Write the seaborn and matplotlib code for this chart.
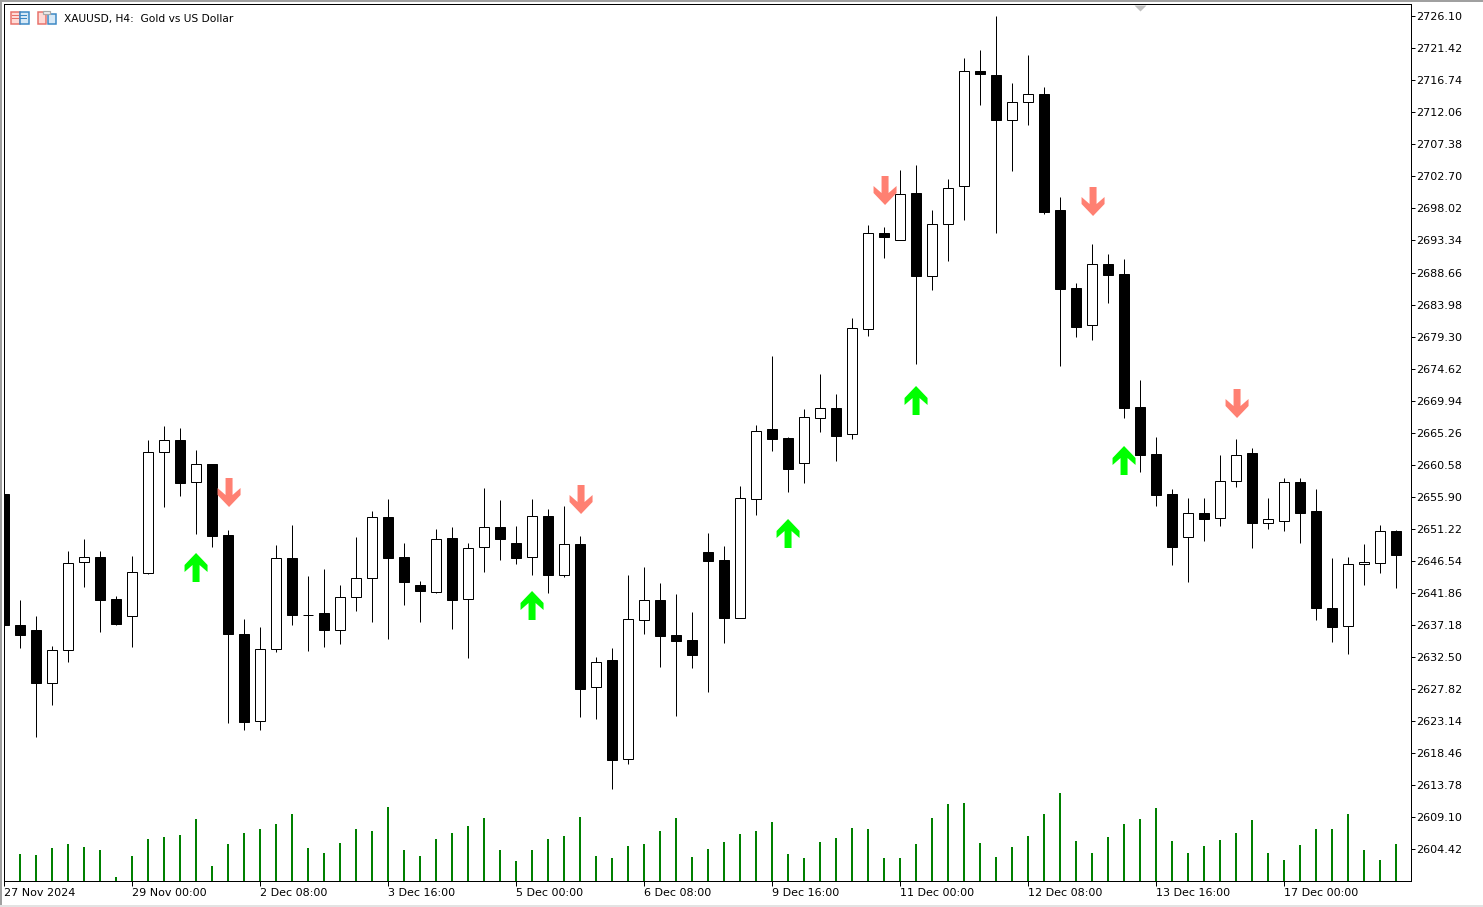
from matplotlib.patches import Rectangle
from matplotlib.path import Path
import matplotlib
matplotlib.use('Agg')
import matplotlib.pyplot as plt
import numpy as np
import seaborn as sns

symbol_text = 'XAUUSD, H4:  Gold vs US Dollar'

# 4시간봉 가격
highs = [2658.00, 2640.78, 2638.45, 2634.07, 2647.94, 2649.70, 2647.94, 2641.37, 2647.21, 2664.16, 2666.20,
         2665.91, 2662.70, 2660.65, 2651.02, 2637.98, 2636.84, 2648.82, 2651.74, 2644.29, 2645.31, 2642.98,
         2649.99, 2653.79, 2655.54, 2649.11, 2643.56, 2651.16, 2651.45, 2649.11, 2657.15, 2655.39, 2651.60,
         2655.54, 2654.08, 2654.52, 2650.13, 2632.46, 2633.77, 2644.44, 2645.61, 2643.27, 2641.66, 2639.03,
         2650.57, 2648.67, 2657.44, 2666.35, 2676.43, 2664.60, 2668.69, 2673.80, 2670.88, 2681.98, 2695.57,
         2695.28, 2703.60, 2704.33, 2697.76, 2702.29, 2719.97, 2721.14, 2726.10, 2716.31, 2720.41, 2715.73,
         2699.66, 2687.10, 2692.79, 2691.33, 2690.60, 2672.93, 2664.60, 2657.00, 2655.69, 2655.69, 2661.97,
         2664.31, 2662.99, 2655.69, 2658.61, 2658.61, 2657.00, 2646.92, 2647.07, 2648.97, 2651.74, 2651.01]
lows = [2635.00, 2633.77, 2620.77, 2625.44, 2631.73, 2642.68, 2636.11, 2637.13, 2633.92, 2644.58, 2654.37,
        2655.98, 2650.43, 2648.52, 2622.81, 2621.79, 2621.79, 2633.19, 2637.13, 2633.34, 2633.92, 2634.36,
        2639.18, 2637.57, 2635.09, 2640.06, 2637.57, 2641.81, 2636.55, 2632.31, 2644.88, 2646.63, 2646.05,
        2644.44, 2641.81, 2644.15, 2623.69, 2623.40, 2613.18, 2616.83, 2635.82, 2630.99, 2623.84, 2630.85,
        2627.35, 2634.50, 2638.16, 2653.20, 2662.55, 2656.56, 2657.88, 2665.33, 2661.09, 2664.31, 2679.35,
        2690.75, 2693.38, 2675.26, 2686.07, 2690.31, 2696.30, 2713.10, 2694.40, 2703.46, 2710.18, 2697.18,
        2674.97, 2679.21, 2678.77, 2684.17, 2667.37, 2659.48, 2654.52, 2645.90, 2643.42, 2649.41, 2651.60,
        2657.29, 2648.38, 2651.16, 2650.87, 2649.11, 2637.86, 2634.65, 2632.90, 2642.98, 2644.73, 2642.54]
opens = [2656.27, 2637.13, 2636.40, 2628.66, 2633.48, 2646.34, 2647.07, 2640.93, 2638.45, 2644.73, 2662.41,
         2664.16, 2658.03, 2660.65, 2650.28, 2635.82, 2623.11, 2633.63, 2646.92, 2638.66, 2638.88, 2636.40,
         2641.22, 2644.00, 2652.91, 2647.07, 2642.98, 2641.95, 2649.84, 2640.93, 2648.53, 2651.45, 2649.11,
         2647.07, 2653.06, 2644.44, 2648.97, 2628.07, 2632.02, 2617.56, 2637.86, 2640.78, 2635.67, 2634.94,
         2647.80, 2646.63, 2638.16, 2655.54, 2665.77, 2664.45, 2660.80, 2667.37, 2668.83, 2665.04, 2680.37,
         2694.40, 2693.38, 2700.24, 2688.12, 2695.72, 2701.27, 2718.07, 2717.48, 2710.91, 2713.54, 2714.71,
         2697.76, 2686.37, 2680.96, 2689.87, 2688.41, 2668.98, 2662.12, 2656.27, 2649.99, 2653.49, 2652.77,
         2658.17, 2662.26, 2652.03, 2652.33, 2658.03, 2653.79, 2639.62, 2636.99, 2646.05, 2646.19, 2650.87]
closes = [2637.13, 2635.67, 2628.66, 2633.48, 2646.19, 2647.07, 2640.78, 2637.28, 2644.88, 2662.41, 2664.16,
          2657.88, 2660.65, 2650.14, 2635.82, 2622.96, 2633.63, 2646.92, 2638.59, 2638.66, 2636.40, 2641.22,
          2644.00, 2652.91, 2646.92, 2643.42, 2642.10, 2649.70, 2640.78, 2648.38, 2651.45, 2649.70, 2646.92,
          2653.06, 2644.44, 2648.97, 2627.78, 2631.73, 2617.41, 2638.01, 2640.78, 2635.53, 2634.80, 2632.75,
          2646.48, 2638.16, 2655.69, 2665.47, 2664.31, 2659.92, 2667.52, 2668.83, 2664.74, 2680.52, 2694.40,
          2693.82, 2700.10, 2688.12, 2695.72, 2700.97, 2718.07, 2717.63, 2710.91, 2713.54, 2714.71, 2697.47,
          2686.22, 2680.67, 2689.87, 2688.26, 2668.83, 2661.97, 2656.12, 2648.53, 2653.49, 2652.62, 2658.17,
          2661.97, 2652.03, 2652.62, 2658.03, 2653.49, 2639.62, 2636.84, 2646.05, 2646.34, 2650.87, 2647.36]

# 틱 거래량
volumes = [30, 27, 26, 33, 37, 34, 31, 4, 25, 42, 44, 46, 62, 15, 37, 48, 52, 57, 67, 33, 28, 38, 52, 50, 74, 31,
           25, 42, 48, 55, 63, 31, 20, 31, 42, 45, 64, 25, 23, 35, 37, 50, 63, 24, 32, 39, 47, 50, 59, 27, 23, 39,
           43, 53, 52, 23, 23, 37, 63, 77, 78, 38, 24, 34, 45, 67, 88, 40, 28, 44, 57, 62, 73, 40, 28, 35, 41, 48,
           61, 28, 21, 36, 52, 52, 67, 31, 21, 37]

# 화살표 신호
buy_bars = [12, 33, 49, 57, 70]
buy_prices = [2645.63, 2640.08, 2650.60, 2670.03, 2661.27]
sell_bars = [14, 36, 55, 68, 77]
sell_prices = [2656.59, 2655.57, 2700.71, 2699.10, 2669.59]

price_ticks = [2726.10, 2721.42, 2716.74, 2712.06, 2707.38, 2702.70, 2698.02, 2693.34, 2688.66, 2683.98,
               2679.30, 2674.62, 2669.94, 2665.26, 2660.58, 2655.90, 2651.22, 2646.54, 2641.86, 2637.18,
               2632.50, 2627.82, 2623.14, 2618.46, 2613.78, 2609.10, 2604.42]
date_ticks = [0, 8, 16, 24, 32, 40, 48, 56, 64, 72, 80]
date_labels = ['27 Nov 2024', '29 Nov 00:00', '2 Dec 08:00', '3 Dec 16:00', '5 Dec 00:00', '6 Dec 08:00',
               '9 Dec 16:00', '11 Dec 00:00', '12 Dec 08:00', '13 Dec 16:00', '17 Dec 00:00']

W, H = 1483, 907
sns.set_theme(style='white')
plt.rcParams['font.family'] = ['DejaVu Sans']
PX = 72 / 100  # 1픽셀 선 굵기

fig = plt.figure(figsize=(W / 100, H / 100), dpi=100, facecolor='white')
# agg 스냅 때문에 0.25픽셀 당김
pos = [4.25 / W, (H - 881.25) / H, 1407 / W, 877 / H]

# 거래량은 뒤쪽 축에
ax_v = fig.add_axes(pos, zorder=0)
idx = np.arange(len(volumes))
sns.barplot(x=idx, y=volumes, native_scale=True, width=2 / 16, color='#008000', saturation=1,
            errorbar=None, linewidth=0, ax=ax_v)
ax_v.set_xlim(0, 87.94)
ax_v.set_ylim(-0.5, 876.5)
ax_v.axis('off')

ax = fig.add_axes(pos, zorder=1)
ax.patch.set_alpha(0)
ax.set_xlim(0, 87.94)
ax.set_ylim(2599.73, 2727.85)

o = np.array(opens)
c = np.array(closes)
ax.vlines(idx, lows, highs, color='black', linewidth=PX, zorder=2, snap=True)
fills = ['white' if b else 'black' for b in c > o]
ax.bar(idx, np.abs(c - o), bottom=np.minimum(o, c), width=10 / 16, color=fills, edgecolor='black',
       linewidth=PX, zorder=3)

# 화살표 모양
up_verts = np.array([(0, 14.5), (11.5, 2.5), (11.5, -4.5), (3.5, 2.5), (3.5, -14.5), (-3.5, -14.5), (-3.5, 2.5),
                     (-11.5, -4.5), (-11.5, 2.5), (0, 14.5)])
up = Path(up_verts + [-0.45, 0], closed=True)
down = Path(up_verts * [1, -1] + [0.55, 0], closed=True)
sns.scatterplot(x=buy_bars, y=buy_prices, marker=up, s=436, color='#00FF00', linewidth=0, ax=ax, zorder=5)
sns.scatterplot(x=sell_bars, y=sell_prices, marker=down, s=436, color='#FF8072', linewidth=0, ax=ax, zorder=5)

# 차트 시프트 표시
shift = Path([(-2, 1), (2, 1), (0, -1), (-2, 1)], closed=True)
ax.plot([71], [2727.35], marker=shift, ms=12 * PX, color='#C0C0C0', mew=0, clip_on=False, zorder=6)

ax.yaxis.tick_right()
ax.set_yticks(price_ticks)
ax.set_yticklabels(['%.2f' % p for p in price_ticks], fontsize=8, color='black')
ax.set_xticks(date_ticks)
ax.set_xticklabels(date_labels, fontsize=8, color='black', ha='left')
ax.tick_params(axis='y', length=4 * PX, width=PX, pad=0.5, color='black', right=True)
ax.tick_params(axis='x', length=5 * PX, width=PX, pad=1.5, color='black', bottom=True)
for s in ax.spines.values():
    s.set_linewidth(PX)
    s.set_color('black')
    s.set_visible(True)

# 픽셀 단위 사각형
def px_rect(x, y, w, h, fc='none', ec='none', lw=1.0):
    r = Rectangle((x, H - y - h), w, h, facecolor=fc, edgecolor=ec, linewidth=lw * PX if ec != 'none' else 0,
                  transform=None, zorder=10)
    fig.add_artist(r)

# 창 테두리
px_rect(0, 0, 2, H, '#A0A0A0')
px_rect(0, 0, W, 2, '#A0A0A0')
px_rect(0, 905, W, 2, '#E3E3E3')

# 왼쪽 위 아이콘
px_rect(10.5, 12, 9, 11.5, '#FFDAD6', '#E8716A', 1.5)
px_rect(19.5, 12, 9, 11.5, '#D6E8F6', '#3A87C4', 1.5)
for yy in (15, 18):
    px_rect(12, yy, 7, 1.2, '#E8716A')
    px_rect(20, yy, 7, 1.2, '#3A87C4')
px_rect(37.5, 12, 8, 11.5, '#FFDAD6', '#E8716A', 1.5)
px_rect(48, 14, 7.5, 9.5, '#D6E8F6', '#3A87C4', 1.5)
px_rect(43, 10.5, 7, 3.5, '#F0F0F0', '#A8A8A8', 1.2)

fig.text(64 / W, (H - 19) / H, symbol_text, fontsize=7.7, color='black', ha='left', va='center')

plt.savefig('out.png', dpi=100)
